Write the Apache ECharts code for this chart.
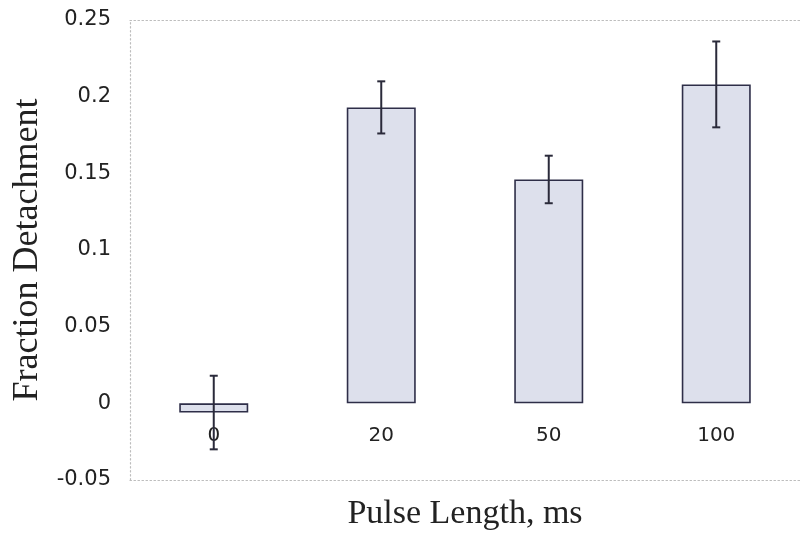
<!DOCTYPE html>
<html>
<head>
<meta charset="utf-8">
<script src="https://cdn.jsdelivr.net/npm/echarts@6/dist/echarts.min.js"></script>
<style>
  html, body { margin: 0; padding: 0; background: #ffffff; }
  #chart { width: 800px; height: 539px; }
</style>
</head>
<body>
<div id="chart"></div>
<script>
// Data
const categories = ['0', '20', '50', '100'];
const meanValues = [-0.006, 0.193, 0.146, 0.208];
const errorValues = [0.024, 0.017, 0.0155, 0.028];
const yMin = -0.05;
const yMax = 0.25;
const yStep = 0.05;
const xTitle = 'Pulse Length, ms';
const yTitle = 'Fraction Detachment';

const errorData = categories.map((c, i) => [i, meanValues[i], errorValues[i]]);

const chart = echarts.init(document.getElementById('chart'), null, { renderer: 'canvas' });

const dotted = { color: '#bdbdbd', type: [1.5, 2.5], width: 1.2 };
// plot area: zero line sits at 5/6 of the height from the top
const gridTop = 20, gridBottom = 59, H = 539;
const zeroY = gridTop + (H - gridTop - gridBottom) * (yMax / (yMax - yMin));

chart.setOption({
  backgroundColor: '#ffffff',
  animation: false,
  grid: [
    { left: 130, right: -10, top: gridTop, bottom: gridBottom },
    // label strip whose bottom edge is the zero line of the main plot
    { left: 130, right: -10, top: gridTop, bottom: H - zeroY }
  ],
  xAxis: [
    {
      type: 'category',
      data: categories,
      gridIndex: 0,
      position: 'bottom',
      axisLine: { show: true, onZero: false, lineStyle: dotted },
      axisTick: { show: false },
      axisLabel: { show: false },
      splitLine: { show: false },
      name: xTitle,
      nameLocation: 'middle',
      nameGap: 17,
      nameTextStyle: { fontSize: 34, fontFamily: 'Liberation Serif', color: '#222' }
    },
    {
      type: 'category',
      data: categories,
      gridIndex: 0,
      position: 'top',
      axisLine: { show: true, onZero: false, lineStyle: dotted },
      axisTick: { show: false },
      axisLabel: { show: false },
      splitLine: { show: false }
    },
    {
      type: 'category',
      data: categories,
      gridIndex: 1,
      position: 'bottom',
      axisLine: { show: false, onZero: false },
      axisTick: { show: false },
      axisLabel: { margin: 22, fontSize: 20, fontFamily: 'DejaVu Sans', color: '#222' },
      splitLine: { show: false }
    }
  ],
  yAxis: [
    {
      type: 'value',
      gridIndex: 0,
      min: yMin,
      max: yMax,
      interval: yStep,
      axisLine: { show: true, onZero: false, lineStyle: dotted },
      axisTick: { show: false },
      splitLine: { show: false },
      axisLabel: { margin: 19, fontSize: 21, fontFamily: 'DejaVu Sans', color: '#222' },
      name: yTitle,
      nameLocation: 'middle',
      nameGap: 71,
      nameTextStyle: { fontSize: 36, fontFamily: 'Liberation Serif', color: '#222' }
    },
    {
      type: 'value',
      gridIndex: 1,
      min: 0,
      max: yMax,
      show: false
    }
  ],
  series: [
    {
      type: 'bar',
      data: meanValues,
      xAxisIndex: 0,
      yAxisIndex: 0,
      barWidth: 69,
      itemStyle: { color: '#dde0ec', borderColor: '#2e2e48', borderWidth: 1.6 }
    },
    {
      type: 'custom',
      xAxisIndex: 0,
      yAxisIndex: 0,
      data: errorData,
      z: 5,
      renderItem: function (params, api) {
        const x = api.value(0);
        const m = api.value(1);
        const e = api.value(2);
        const top = api.coord([x, m + e]);
        const bot = api.coord([x, m - e]);
        const hw = 4;
        const st = { stroke: '#2a2a3a', lineWidth: 2 };
        return {
          type: 'group',
          children: [
            { type: 'line', shape: { x1: top[0], y1: top[1], x2: bot[0], y2: bot[1] }, style: st },
            { type: 'line', shape: { x1: top[0] - hw, y1: top[1], x2: top[0] + hw, y2: top[1] }, style: st },
            { type: 'line', shape: { x1: bot[0] - hw, y1: bot[1], x2: bot[0] + hw, y2: bot[1] }, style: st }
          ]
        };
      }
    }
  ]
});
</script>
</body>
</html>
